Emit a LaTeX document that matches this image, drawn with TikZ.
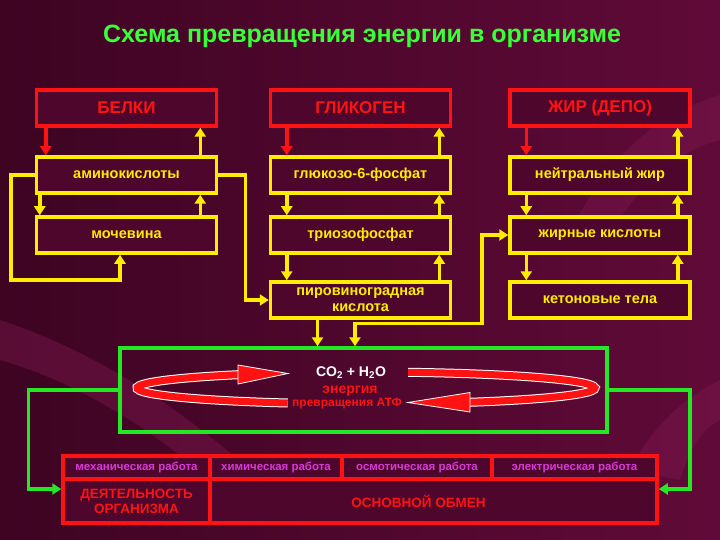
\documentclass[tikz,border=0pt]{standalone}
\usepackage{fontspec}
\setmainfont{Liberation Sans}
\usetikzlibrary{arrows.meta}

\definecolor{bgdark}{RGB}{62,4,34}
\definecolor{bgmid}{RGB}{96,10,56}
\definecolor{bgband}{RGB}{140,30,90}
\definecolor{boxfill}{RGB}{78,6,44}
\definecolor{boxred}{RGB}{255,18,18}
\definecolor{boxyellow}{RGB}{255,236,0}
\definecolor{boxgreen}{RGB}{36,232,36}
\definecolor{titlegreen}{RGB}{56,255,56}
\definecolor{workpink}{RGB}{214,58,214}

\tikzset{
    depot/.style={draw=boxred, fill=boxfill, line width=3.5pt, minimum width=180pt, minimum height=36pt,
        text=boxred, font=\bfseries\fontsize{17}{19}\selectfont},
    stage/.style={draw=boxyellow, fill=boxfill, line width=3.5pt, minimum width=180pt, minimum height=36pt,
        text=boxyellow, font=\bfseries\fontsize{14.5}{16}\selectfont, align=center, inner sep=1pt},
    cell/.style={draw=boxred, fill=boxfill, line width=3.5pt, inner sep=1pt, align=center},
    rarrow/.style={draw=boxred, line width=3.5pt, -{Triangle[width=11pt,length=9pt]}},
    yarrow/.style={draw=boxyellow, line width=3.5pt, -{Triangle[width=11pt,length=9pt]}},
    garrow/.style={draw=boxgreen, line width=3.5pt, -{Triangle[width=11pt,length=9pt]}}
}

\begin{document}
\begin{tikzpicture}[x=1pt,y=-1pt]

            % background
            \useasboundingbox (0,0) rectangle (720,540);
            \shade[left color=bgdark, right color=bgmid] (0,0) rectangle (720,540);
            \fill[bgband, opacity=.35] (0,320) .. controls (90,350) and (170,400) .. (250,470)
                -- (210,480) .. controls (140,420) and (70,380) .. (0,360) -- cycle;
            \fill[bgband, opacity=.3] (720,95) .. controls (640,120) and (600,170) .. (560,250)
                -- (600,250) .. controls (640,180) and (680,150) .. (720,140) -- cycle;
            \fill[bgband, opacity=.3] (720,380) .. controls (680,400) and (650,430) .. (630,470)
                -- (680,480) .. controls (690,450) and (700,430) .. (720,420) -- cycle;

            % title
            \node[text=titlegreen, font=\bfseries\fontsize{25}{27}\selectfont] (title) at (362,36)
                {Схема превращения энергии в организме};

            % stores
            \node[depot] (belki) at (126.5,108) {БЕЛКИ};
            \node[depot] (glycogen) at (360.5,108) {ГЛИКОГЕН};
            \node[depot] (fat) at (600,108) {ЖИР (ДЕПО)};

            % intermediates
            \node[stage] (amino) at (126.5,175) {аминокислоты};
            \node[stage] (glucose) at (360.5,175) {глюкозо-6-фосфат};
            \node[stage] (neutral) at (600,175) {нейтральный жир};
            \node[stage] (urea) at (126.5,235) {мочевина};
            \node[stage] (triose) at (360.5,235) {триозофосфат};
            \node[stage] (fatty) at (600,235) {жирные кислоты};
            \node[stage] (pyruvate) at (360.5,300) {пировиноградная\\кислота};
            \node[stage] (ketone) at (600,300) {кетоновые тела};

            % store <-> first product
            \foreach \store/\prod/\dx/\ux in {belki/amino/11/18, glycogen/glucose/18/13, fat/neutral/18/14} {
                \draw[rarrow] ([xshift=\dx pt]\store.south west) -- ([xshift=\dx pt]\prod.north west);
                \draw[yarrow] ([xshift=-\ux pt]\prod.north east) -- ([xshift=-\ux pt]\store.south east);
            }

            % product <-> next product
            \foreach \upper/\lower/\dx/\ux in {amino/urea/5/18, glucose/triose/18/13, triose/pyruvate/18/13,
                neutral/fatty/18/14, fatty/ketone/18/14} {
                \draw[yarrow] ([xshift=\dx pt]\upper.south west) -- ([xshift=\dx pt]\lower.north west);
                \draw[yarrow] ([xshift=-\ux pt]\lower.north east) -- ([xshift=-\ux pt]\upper.south east);
            }

            \draw[yarrow] (amino.west) -- ++(-24,0) -- ++(0,105) -| ([xshift=-6.5pt]urea.south);
            \draw[yarrow] (amino.east) -- ++(27,0) |- (pyruvate.west);

            % energy box
            \node[draw=boxgreen, line width=3.5pt, minimum width=487pt, minimum height=84pt] (energy) at (363.5,390) {};
            \draw[yarrow] ([xshift=-43pt]pyruvate.south) -- ([xshift=-43pt]pyruvate.south |- energy.north);
            \draw[yarrow, {Triangle[width=11pt,length=9pt]}-{Triangle[width=11pt,length=9pt]}]
                ([xshift=-8.5pt]energy.north) -- ++(0,-23) -- ++(127,0) |- (fatty.west);

            % cycle of ATP
            \draw[white, line width=9pt] (287.7,403) arc[start angle=110, end angle=236, x radius=229, y radius=16];
            \draw[boxred, line width=7pt] (287.7,403) arc[start angle=110, end angle=236, x radius=229, y radius=16];
            \filldraw[fill=boxred, draw=white, line width=.8pt] (238,365) -- (288,373.5) -- (238,384) -- cycle;
            \draw[white, line width=9pt] (408.1,372.3) arc[start angle=280.6, end angle=423, x radius=229, y radius=16];
            \draw[boxred, line width=7pt] (408.1,372.3) arc[start angle=280.6, end angle=423, x radius=229, y radius=16];
            \filldraw[fill=boxred, draw=white, line width=.8pt] (470,392.5) -- (408,402.5) -- (470,412) -- cycle;

            \node[text=white, font=\bfseries\fontsize{14}{16}\selectfont] (water) at (351,373)
                {CO\textsubscript{2} + H\textsubscript{2}O};
            \node[text=boxred, font=\bfseries\fontsize{14}{15}\selectfont] (atp) at (350,391) {энергия};
            \node[text=boxred, font=\bfseries\fontsize{12}{13}\selectfont] (atpturn) at (347,404) {превращения АТФ};

            % work table
            \node[cell, minimum width=147pt, minimum height=23pt, text=workpink, font=\bfseries\fontsize{11.5}{14}\selectfont]
                (mech) at (136.5,467.5) {механическая работа};
            \node[cell, minimum width=132pt, minimum height=23pt, text=workpink, font=\bfseries\fontsize{11.5}{14}\selectfont]
                (chem) at (276,467.5) {химическая работа};
            \node[cell, minimum width=150pt, minimum height=23pt, text=workpink, font=\bfseries\fontsize{11.5}{14}\selectfont]
                (osmo) at (417,467.5) {осмотическая работа};
            \node[cell, minimum width=165pt, minimum height=23pt, text=workpink, font=\bfseries\fontsize{11.5}{14}\selectfont]
                (elec) at (574.5,467.5) {электрическая работа};
            \node[cell, minimum width=147pt, minimum height=44pt, text=boxred, font=\bfseries\fontsize{13.5}{15}\selectfont]
                (activity) at (136.5,501) {ДЕЯТЕЛЬНОСТЬ\\ОРГАНИЗМА};
            \node[cell, minimum width=447pt, minimum height=44pt, text=boxred, font=\bfseries\fontsize{13.5}{15}\selectfont]
                (basal) at (433.5,501) {\hspace*{-30pt}ОСНОВНОЙ ОБМЕН};

            \draw[garrow] (energy.west) -- ++(-90,0) |- ([yshift=12pt]activity.west);
            \draw[garrow] (energy.east) -- ++(81,0) |- ([yshift=12pt]basal.east);

\end{tikzpicture}
\end{document}
